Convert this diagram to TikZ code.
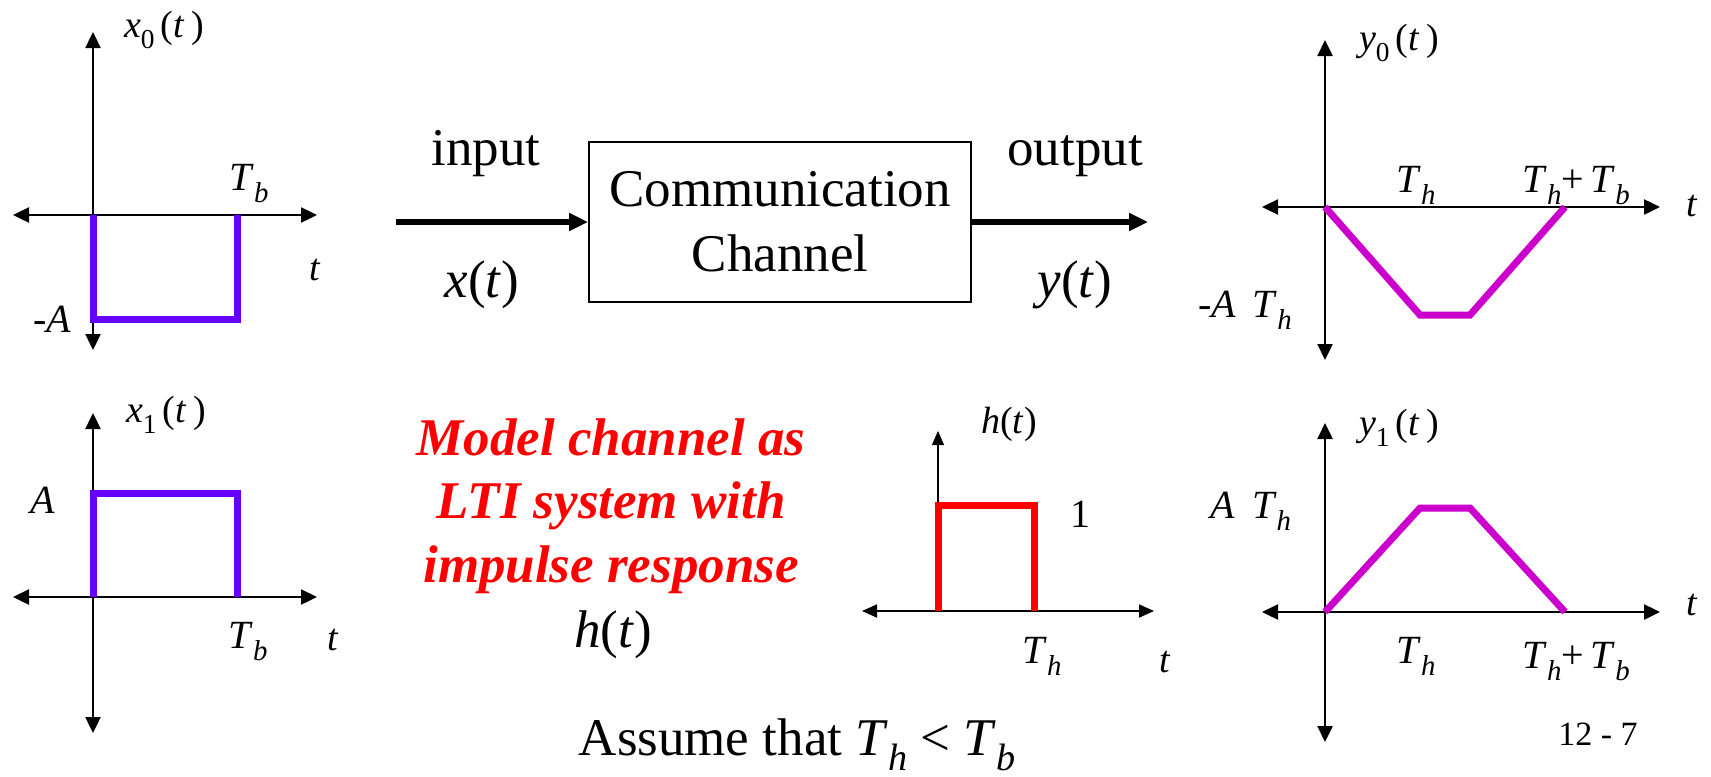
\documentclass[tikz,border=0pt]{standalone}
\usepackage{fontspec}
\setmainfont{Liberation Serif}
\usetikzlibrary{arrows.meta}
\definecolor{purp}{HTML}{6600FF}
\definecolor{mag}{HTML}{CC00CC}
\definecolor{redc}{HTML}{FF0000}
\newcommand{\iv}[1]{\textit{#1}}
\newcommand{\lsub}[1]{\raisebox{-0.3em}{\scalebox{0.72}{#1}}}
\newcommand{\Ts}[2]{\textit{#1}\lsub{\textit{#2}}}
\tikzset{
  axis/.style={line width=1.2pt, {Triangle[length=8pt,width=7.5pt]}-{Triangle[length=8pt,width=7.5pt]}},
  fn/.style={anchor=base, inner sep=0pt, font=\fontsize{19pt}{19pt}\selectfont},
  lbl/.style={anchor=base, inner sep=0pt, font=\fontsize{20pt}{20pt}\selectfont},
  small/.style={anchor=base, inner sep=0pt, font=\fontsize{17pt}{17pt}\selectfont},
  big/.style={anchor=base, inner sep=0pt, font=\fontsize{26.5pt}{32pt}\selectfont},
  redtxt/.style={big, text=redc, font=\fontsize{26.5pt}{32pt}\selectfont\bfseries\itshape},
  sig/.style={line width=3.5pt},
  flow/.style={line width=3pt, -{Triangle[length=9.5pt,width=8.5pt]}},
  chbox/.style={draw, line width=1pt, minimum width=191pt, minimum height=80pt, align=center, inner sep=0pt, font=\fontsize{26.5pt}{32.5pt}\selectfont}
}
\begin{document}
\begin{tikzpicture}[x=0.5pt,y=-0.5pt]
\useasboundingbox (0,0) rectangle (1711,776);
% ---- x0 plot
\draw[axis] (13,215) -- (317,215);
\draw[axis] (93,32) -- (93,350);
\draw[sig,purp] (93,215) -- (93,319) -- (237,319) -- (237,215);
\node[fn] (x0l) at (164,37) {\iv{x}\lsub{0}\,(\iv{t}\,)};
\node[lbl] (x0tb) at (249,190) {\Ts{T}{b}};
\node[fn] (x0t) at (315,280) {\iv{t}};
\node[lbl] (x0a) at (52,332) {-\iv{A}};
% ---- x1 plot
\draw[axis] (13,597) -- (317,597);
\draw[axis] (93,413) -- (93,733);
\draw[sig,purp] (93,597) -- (93,493) -- (237,493) -- (237,597);
\node[fn] (x1l) at (166,422) {\iv{x}\lsub{1}\,(\iv{t}\,)};
\node[lbl] (x1a) at (43,513) {\iv{A}};
\node[lbl] (x1tb) at (248,648) {\Ts{T}{b}};
\node[fn] (x1t) at (333,650) {\iv{t}};
% ---- y0 plot
\draw[axis] (1262,207) -- (1660,207);
\draw[axis] (1325,40) -- (1325,360);
\draw[sig,mag] (1325,207) -- (1420,315) -- (1470,315) -- (1565,207);
\node[fn] (y0l) at (1399,50) {\iv{y}\lsub{0}\,(\iv{t}\,)};
\node[lbl] (y0th) at (1416,192) {\Ts{T}{h}};
\node[lbl] (y0thb) at (1576,192) {\Ts{T}{h}+\,\Ts{T}{b}};
\node[fn] (y0t) at (1692,216) {\iv{t}};
\node[lbl] (y0a) at (1245,317) {-\iv{A}\, \Ts{T}{h}};
% ---- y1 plot
\draw[axis] (1262,612) -- (1660,612);
\draw[axis] (1325,423) -- (1325,742);
\draw[sig,mag] (1325,612) -- (1420,508) -- (1470,508) -- (1565,612);
\node[fn] (y1l) at (1399,435) {\iv{y}\lsub{1}\,(\iv{t}\,)};
\node[lbl] (y1a) at (1251,518) {\iv{A}\, \Ts{T}{h}};
\node[lbl] (y1th) at (1416,663) {\Ts{T}{h}};
\node[lbl] (y1thb) at (1576,668) {\Ts{T}{h}+\,\Ts{T}{b}};
\node[fn] (y1t) at (1692,615) {\iv{t}};
\node[small] (pg) at (1598,745) {12 - 7};
% ---- h plot
\draw[line width=0.9pt, {Triangle[length=7.5pt,width=6.5pt]}-{Triangle[length=7.5pt,width=6.5pt]}] (862,611) -- (1154,611);
\draw[line width=0.6pt, -{Triangle[length=7pt,width=6pt]}] (938,611) -- (938,431);
\draw[sig,redc] (938,611) -- (938,505) -- (1034,505) -- (1034,611);
\node[fn] (hl) at (1009,433) {\iv{h}(\iv{t})};
\node[lbl] (h1) at (1080,527) {1};
\node[lbl] (hth) at (1042,663) {\Ts{T}{h}};
\node[fn] (ht) at (1165,672) {\iv{t}};
% ---- block diagram
\node[chbox] (ch) at (780,222) {Communication\\Channel};
\coordinate (in) at (396,222);
\coordinate (out) at (1148,222);
\draw[flow] (in) -- (ch.west);
\draw[flow] (ch.east) -- (out);
\node[big] (inl) at (486,165) {input};
\node[big] (outl) at (1075,165) {output};
\node[big] (xt) at (482,297) {\iv{x}(\iv{t})};
\node[big] (yt) at (1075,297) {\iv{y}(\iv{t})};
% ---- red text
\node[redtxt] (r1) at (611,455) {Model channel as};
\node[redtxt] (r2) at (611,518) {LTI system with};
\node[redtxt] (r3) at (611,582) {impulse response};
\node[big] (ht2) at (613,647) {\iv{h}(\iv{t})};
\node[big] (assume) at (797,755) {Assume that \Ts{T}{h} < \Ts{T}{b}};
\end{tikzpicture}
\end{document}
